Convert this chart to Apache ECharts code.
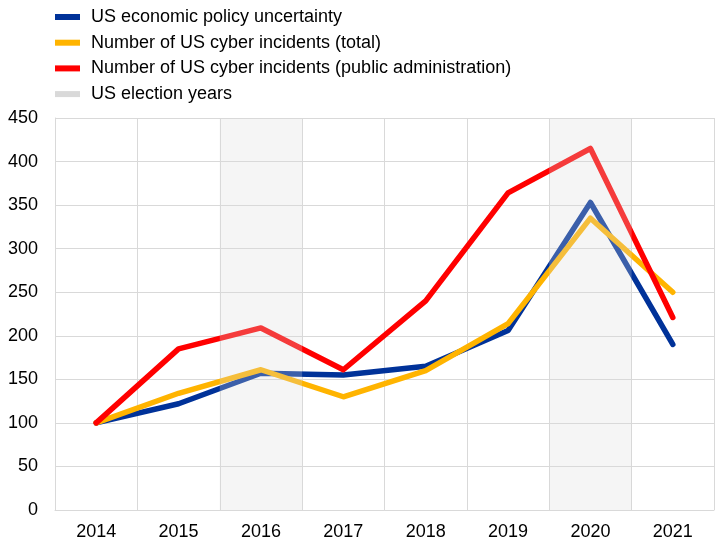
<!DOCTYPE html>
<html>
<head>
<meta charset="utf-8">
<script src="https://cdn.jsdelivr.net/npm/echarts@6/dist/echarts.min.js"></script>
<style>
  html, body { margin: 0; padding: 0; background: #fff; }
  #chart { width: 721px; height: 541px; }
</style>
</head>
<body>
<div id="chart"></div>
<script>
// Years on the x axis
const years = ['2014', '2015', '2016', '2017', '2018', '2019', '2020', '2021'];
// Index values, 2014 = 100
const policyUncertainty = [100, 122, 157, 155, 165, 206, 353, 190];
const cyberTotal = [100, 134, 161, 130, 160, 214, 335, 250];
const cyberPublicAdmin = [100, 185, 209, 161, 240, 364, 415, 221];
// Election years shaded on the chart
const electionYears = ['2016', '2020'];
const yMax = 450;

const seriesNames = [
  'US economic policy uncertainty',
  'Number of US cyber incidents (total)',
  'Number of US cyber incidents (public administration)',
  'US election years'
];

const font = 'Liberation Sans, Arial, sans-serif';

function lineSeries(name, data, color) {
  return {
    name: name,
    type: 'line',
    data: data,
    symbol: 'none',
    z: 2,
    itemStyle: { color: color },
    lineStyle: { color: color, width: 5.5, cap: 'round', join: 'round' }
  };
}

const chart = echarts.init(document.getElementById('chart'), null, { renderer: 'canvas' });
chart.setOption({
  animation: false,
  backgroundColor: '#ffffff',
  textStyle: { fontFamily: font },
  legend: {
    orient: 'vertical',
    left: 50,
    top: 3,
    icon: 'rect',
    itemWidth: 25,
    itemHeight: 6,
    itemGap: 7.7,
    selectedMode: false,
    data: [
      seriesNames[0],
      seriesNames[1],
      seriesNames[2],
      { name: seriesNames[3], itemStyle: { color: '#d9d9d9' } }
    ],
    textStyle: { fontFamily: font, fontSize: 18, color: '#000', lineHeight: 18, padding: [0, 0, 0, 6] }
  },
  grid: { left: 55, right: 7, top: 118, bottom: 30, containLabel: false },
  xAxis: {
    type: 'category',
    data: years,
    boundaryGap: true,
    axisLine: { show: true, lineStyle: { color: '#d9d9d9', width: 1 } },
    axisTick: { show: false },
    axisLabel: { fontFamily: font, fontSize: 18, color: '#000', margin: 13 },
    splitLine: { show: true, lineStyle: { color: '#d9d9d9', width: 1 } }
  },
  yAxis: {
    type: 'value',
    min: 0,
    max: yMax,
    interval: 50,
    axisLine: { show: true, lineStyle: { color: '#d9d9d9', width: 1 } },
    axisTick: { show: false },
    axisLabel: { fontFamily: font, fontSize: 18, color: '#000', margin: 17 },
    splitLine: { show: true, lineStyle: { color: '#d9d9d9', width: 1 } }
  },
  series: [
    lineSeries(seriesNames[0], policyUncertainty, '#003299'),
    lineSeries(seriesNames[1], cyberTotal, '#ffb400'),
    lineSeries(seriesNames[2], cyberPublicAdmin, '#ff0000'),
    {
      // Full-height translucent bands for election years, drawn over the lines
      name: seriesNames[3],
      type: 'bar',
      data: years.map(y => (electionYears.includes(y) ? yMax : null)),
      barCategoryGap: '0%',
      barWidth: '100%',
      silent: true,
      z: 5,
      itemStyle: { color: 'rgba(217,217,217,0.27)' }
    }
  ]
});
</script>
</body>
</html>
